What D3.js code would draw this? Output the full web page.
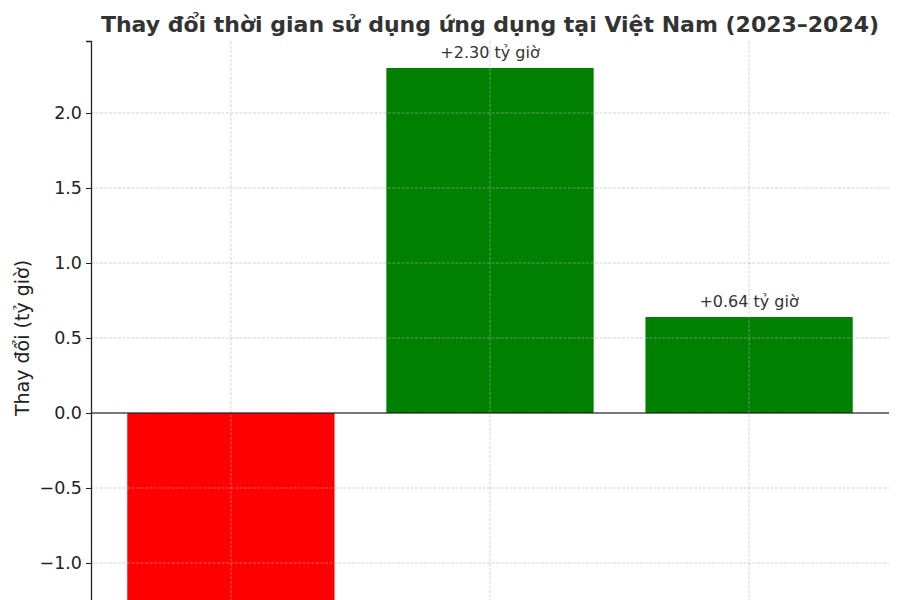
<!DOCTYPE html>
<meta charset="utf-8">
<title>Thay đổi thời gian sử dụng ứng dụng</title>
<body>
<script src="https://cdn.jsdelivr.net/npm/d3@7/dist/d3.min.js"></script>
<style>
html, body {
    margin: 0;
    background: #fff;
}
svg {
    display: block;
    font-family: "DejaVu Sans", sans-serif;
}
</style>
<script>
// data (x labels fall below the visible frame in the reference)
var categories = ["Nhóm 1", "Nhóm 2", "Nhóm 3"];
var values = [-1.30, 2.30, 0.64];
var colors = ["red", "green", "green"];
var yTicks = [-1.0, -0.5, 0.0, 0.5, 1.0, 1.5, 2.0];

var width = 900,
    height = 600;

var svg = d3.select("body").append("svg")
    .attr("width", width)
    .attr("height", height);

// plot box; its bottom lies below the 600px frame, as in the reference
var plotL = 91, plotR = 889, plotT = 41, plotB = 635;

var pad = 0.05 * (d3.max(values) - d3.min(values));

var x = d3.scaleBand()
    .domain(categories)
    .range([plotL, plotR])
    .paddingInner(0.2)
    .paddingOuter(0.14);

var y = d3.scaleLinear()
    .domain([d3.min(values) - pad, d3.max(values) + pad])
    .range([plotB, plotT]);

var fmt = function(d) { return d3.format(".1f")(d).replace("-", "\u2212"); };

// bars
svg.append("g").selectAll("rect")
    .data(values)
    .enter().append("rect")
    .attr("x", function(d, i) { return x(categories[i]); })
    .attr("width", x.bandwidth())
    .attr("y", function(d) { return y(Math.max(0, d)); })
    .attr("height", function(d) { return Math.abs(y(d) - y(0)); })
    .attr("fill", function(d, i) { return colors[i]; });

// grid, drawn over the bars like the original
var grid = svg.append("g")
    .attr("stroke", "#b0b0b0")
    .attr("stroke-opacity", 0.7)
    .attr("stroke-width", 0.8)
    .attr("stroke-dasharray", "3,1.5");

grid.selectAll(".gy")
    .data(yTicks)
    .enter().append("line")
    .attr("x1", plotL).attr("x2", plotR)
    .attr("y1", function(d) { return y(d); })
    .attr("y2", function(d) { return y(d); });

grid.selectAll(".gx")
    .data(categories)
    .enter().append("line")
    .attr("x1", function(d) { return x(d) + x.bandwidth() / 2; })
    .attr("x2", function(d) { return x(d) + x.bandwidth() / 2; })
    .attr("y1", plotT).attr("y2", plotB);

// zero line
svg.append("line")
    .attr("x1", plotL).attr("x2", plotR)
    .attr("y1", y(0)).attr("y2", y(0))
    .attr("stroke", "#000")
    .attr("stroke-width", 1.2);

// y axis
var yAxis = svg.append("g")
    .attr("transform", "translate(" + plotL + ",0)")
    .call(d3.axisLeft(y).tickValues(yTicks).tickFormat(fmt).tickSize(5).tickPadding(4));

yAxis.select(".domain").attr("stroke", "#222").attr("stroke-width", 1.3);
yAxis.selectAll(".tick line").attr("stroke", "#222").attr("stroke-width", 1);
yAxis.selectAll(".tick text")
    .attr("fill", "#222")
    .style("font-size", "17.5px")
    .style("font-family", "DejaVu Sans");

// value labels (the negative bar's label sits below the frame, so only positives show)
var labelled = values.map(function(d, i) { return { v: d, c: categories[i] }; })
    .filter(function(d) { return d.v >= 0; });

svg.append("g").selectAll("text")
    .data(labelled)
    .enter().append("text")
    .attr("x", function(d) { return x(d.c) + x.bandwidth() / 2; })
    .attr("y", function(d) { return y(d.v) - 10; })
    .attr("text-anchor", "middle")
    .attr("fill", "#333")
    .style("font-size", "16px")
    .text(function(d) { return "+" + d.v.toFixed(2) + " tỷ giờ"; });

// title
svg.append("text")
    .attr("x", (plotL + plotR) / 2)
    .attr("y", 32)
    .attr("text-anchor", "middle")
    .attr("fill", "#333")
    .style("font-size", "22px")
    .style("font-weight", "bold")
    .text("Thay đổi thời gian sử dụng ứng dụng tại Việt Nam (2023–2024)");

// y label
svg.append("text")
    .attr("transform", "translate(29," + ((plotT + plotB) / 2) + ")rotate(-90)")
    .attr("text-anchor", "middle")
    .attr("fill", "#222")
    .style("font-size", "19px")
    .text("Thay đổi (tỷ giờ)");
</script>
